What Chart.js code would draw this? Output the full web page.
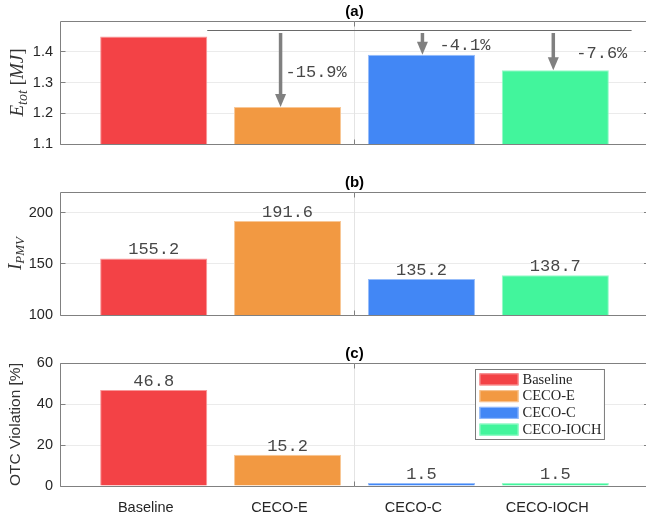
<!DOCTYPE html>
<html>
<head>
<meta charset="utf-8">
<script src="https://cdn.jsdelivr.net/npm/chart.js@4/dist/chart.umd.min.js"></script>
<style>
  html, body { margin: 0; padding: 0; background: #fff; overflow: hidden; width: 646px; height: 519px; }
  .panel { position: absolute; left: 0; width: 662px; }
  canvas { display: block; }
</style>
</head>
<body>
<div class="panel" style="top:0"><canvas id="pa" width="662" height="170"></canvas></div>
<div class="panel" style="top:170px"><canvas id="pb" width="662" height="170"></canvas></div>
<div class="panel" style="top:340px"><canvas id="pc" width="662" height="179"></canvas></div>
<script>
// Controllers compared in the three panels
const categories = ['Baseline', 'CECO-E', 'CECO-C', 'CECO-IOCH'];

// (a) total energy [MJ], (b) PMV index, (c) OTC violation [%]
const energyMJ     = [1.45, 1.22, 1.39, 1.34];
const pmvIndex     = [155.2, 191.6, 135.2, 138.7];
const otcViolation = [46.8, 15.2, 1.5, 1.5];

// y-axis tick values
const energyTicks = [1.1, 1.2, 1.3, 1.4];
const pmvTicks    = [100, 150, 200];
const otcTicks    = [0, 20, 40, 60];

const barColors = ['#F34246', '#F29942', '#4287F5', '#42F59C'];

const AXIS = '#808080';
const TEXT = '#262626';
const SANS = "'Liberation Sans', Arial, sans-serif";
const SERIF = "'Liberation Serif', 'Times New Roman', serif";
const MONO = "'Liberation Mono', 'Courier New', monospace";

function tint(hex, f) {
  const n = parseInt(hex.slice(1), 16);
  const c = [(n >> 16) & 255, (n >> 8) & 255, n & 255].map(v => Math.round(v + (255 - v) * f));
  return `rgb(${c[0]},${c[1]},${c[2]})`;
}
const crisp = v => Math.floor(v) + 0.5;

// Axes box, inward tick marks and the divider between the two controller groups
const frame = {
  id: 'frame',
  beforeDatasetsDraw(chart, args, o) {
    const { ctx, chartArea: a, scales: { x } } = chart;
    const xd = crisp(x.getPixelForValue(o.divider));
    ctx.save();
    ctx.strokeStyle = '#e4e4e4';
    ctx.lineWidth = 1;
    ctx.beginPath(); ctx.moveTo(xd, a.top); ctx.lineTo(xd, a.bottom); ctx.stroke();
    ctx.restore();
  },
  afterDatasetsDraw(chart, args, o) {
    const { ctx, chartArea: a, scales: { x, y } } = chart;
    const L = crisp(a.left), T = crisp(a.top), B = crisp(a.bottom), R = a.right;
    ctx.save();
    ctx.strokeStyle = AXIS;
    ctx.lineWidth = 1;
    ctx.beginPath();
    ctx.moveTo(L, T); ctx.lineTo(R, T);
    ctx.moveTo(L, T); ctx.lineTo(L, B);
    ctx.moveTo(L, B); ctx.lineTo(R, B);
    y.ticks.forEach(t => {
      const py = crisp(y.getPixelForValue(t.value));
      ctx.moveTo(L, py); ctx.lineTo(L + 5, py);
      ctx.moveTo(R - 5, py); ctx.lineTo(R, py);
    });
    const xd = crisp(x.getPixelForValue(o.divider));
    ctx.moveTo(xd, B); ctx.lineTo(xd, B - 5);
    ctx.moveTo(xd, T); ctx.lineTo(xd, T + 5);
    ctx.stroke();
    ctx.restore();
  }
};

// Panel tag and rotated y-axis title (rich text with subscripts)
const panelText = {
  id: 'panelText',
  afterDraw(chart, args, o) {
    const { ctx, chartArea: a } = chart;
    ctx.save();
    ctx.fillStyle = '#000';
    ctx.font = `bold 15px ${SANS}`;
    ctx.textAlign = 'center';
    ctx.textBaseline = 'middle';
    ctx.fillText(o.tag, (a.left + a.right) / 2, a.top - 9.5);

    ctx.fillStyle = '#333';
    ctx.textAlign = 'left';
    ctx.textBaseline = 'alphabetic';
    let total = 0;
    const widths = o.yTitle.map(p => { ctx.font = p.font; const w = ctx.measureText(p.text).width; total += w; return w; });
    ctx.translate(o.yTitleX, (a.top + a.bottom) / 2);
    ctx.rotate(-Math.PI / 2);
    let cx = -total / 2;
    o.yTitle.forEach((p, i) => {
      ctx.font = p.font;
      ctx.fillText(p.text, cx, p.dy || 0);
      cx += widths[i];
    });
    ctx.restore();
  }
};

// Value printed above every bar
const valueLabels = {
  id: 'valueLabels',
  afterDatasetsDraw(chart) {
    const { ctx } = chart;
    ctx.save();
    ctx.font = `17px ${MONO}`;
    ctx.fillStyle = '#474747';
    ctx.textAlign = 'center';
    ctx.textBaseline = 'alphabetic';
    chart.data.datasets.forEach((ds, i) => {
      const el = chart.getDatasetMeta(i).data[0];
      ctx.fillText(ds.data[0].y.toFixed(1), el.x, el.y - 4);
    });
    ctx.restore();
  }
};

// Reference line at the baseline level with arrows down to each controller's bar
const changeArrows = {
  id: 'changeArrows',
  afterDatasetsDraw(chart, args, o) {
    const { ctx, scales: { x, y } } = chart;
    const base = energyMJ[0];
    const baseEl = chart.getDatasetMeta(0).data[0];
    const lineY = crisp(y.getPixelForValue(base) - 5.5);
    ctx.save();
    ctx.strokeStyle = '#6a6a6a';
    ctx.lineWidth = 1;
    ctx.beginPath();
    ctx.moveTo(baseEl.x + baseEl.width / 2, lineY);
    ctx.lineTo(x.getPixelForValue(o.lineEnd), lineY);
    ctx.stroke();

    ctx.font = `17px ${MONO}`;
    ctx.textAlign = 'left';
    ctx.textBaseline = 'middle';
    for (let i = 1; i < energyMJ.length; i++) {
      const el = chart.getDatasetMeta(i).data[0];
      const ax = el.x + o.arrowDx[i - 1], y0 = lineY + 2.5, tip = el.y;
      ctx.fillStyle = '#808080';
      ctx.fillRect(ax - 1.75, y0, 3.5, tip - 12 - y0);
      ctx.beginPath();
      ctx.moveTo(ax - 5.5, tip - 13);
      ctx.lineTo(ax + 5.5, tip - 13);
      ctx.lineTo(ax, tip);
      ctx.closePath();
      ctx.fill();
      const pct = (energyMJ[i] - base) / base * 100;
      ctx.fillStyle = '#474747';
      ctx.fillText(pct.toFixed(1) + '%', el.x + o.labelDx[i - 1], (y0 + tip) / 2 + 2);
    }
    ctx.restore();
  }
};

// Boxed legend in the upper right of panel (c)
const boxLegend = {
  id: 'boxLegend',
  afterDraw(chart) {
    const { ctx, chartArea: a } = chart;
    const items = chart.data.datasets;
    ctx.save();
    ctx.font = `14.5px ${SERIF}`;
    const textW = Math.max(...items.map(d => ctx.measureText(d.label).width));
    const rowH = 16.75, swW = 39, swH = 12;
    const w = 4 + swW + 4 + textW + 3;
    const h = 3 + rowH * items.length;
    const bx = crisp(a.right - 45 - w), by = crisp(a.top + 6);
    ctx.fillStyle = '#fff';
    ctx.fillRect(bx, by, w, h);
    ctx.strokeStyle = '#7a7a7a';
    ctx.lineWidth = 1;
    ctx.strokeRect(bx, by, w, h);
    ctx.textAlign = 'left';
    ctx.textBaseline = 'middle';
    items.forEach((d, i) => {
      const cy = by + 1.5 + rowH * (i + 0.5);
      ctx.fillStyle = d.backgroundColor;
      ctx.fillRect(bx + 4, cy - swH / 2, swW, swH);
      ctx.strokeStyle = d.borderColor;
      ctx.strokeRect(bx + 4.5, cy - swH / 2 + 0.5, swW - 1, swH - 1);
      ctx.fillStyle = TEXT;
      ctx.fillText(d.label, bx + 4 + swW + 4, cy + 0.5);
    });
    ctx.restore();
  }
};

function makePanel(p) {
  const plugins = [frame, panelText];
  if (p.valueLabels) plugins.push(valueLabels);
  if (p.arrows) plugins.push(changeArrows);
  if (p.legend) plugins.push(boxLegend);

  return new Chart(document.getElementById(p.id), {
    type: 'bar',
    data: {
      datasets: categories.map((c, i) => ({
        label: c,
        data: [{ x: i + 1, y: p.values[i] }],
        backgroundColor: barColors[i],
        borderColor: tint(barColors[i], 0.45),
        borderWidth: 1,
        borderSkipped: 'start',
        grouped: false,
        barPercentage: 0.8,
        categoryPercentage: 1
      }))
    },
    options: {
      responsive: false,
      animation: false,
      events: [],
      layout: { padding: { top: p.top, right: 13, left: 0, bottom: 0 } },
      plugins: {
        legend: { display: false },
        tooltip: { enabled: false },
        frame: { divider: 2.5 },
        panelText: { tag: p.tag, yTitle: p.yTitle, yTitleX: p.yTitleX },
        changeArrows: { lineEnd: 4.57, arrowDx: [-7, 1, -2], labelDx: [-2, 18, 21] }
      },
      scales: {
        x: {
          type: 'linear',
          min: 0.3,
          max: 4.7,
          offset: false,
          afterBuildTicks: s => { s.ticks = categories.map((c, i) => ({ value: i + 1 })); },
          afterFit: s => { s.height = p.bottomH; },
          ticks: {
            display: p.showX,
            autoSkip: false,
            maxRotation: 0,
            padding: 13.5,
            labelOffset: -8,
            color: TEXT,
            font: { family: SANS, size: 14.5 },
            callback: v => categories[v - 1]
          },
          grid: { display: false, drawTicks: false },
          border: { display: false }
        },
        y: {
          min: p.min,
          max: p.max,
          afterBuildTicks: s => { s.ticks = p.ticks.map(v => ({ value: v })); },
          afterFit: s => { s.width = 60; },
          ticks: {
            padding: 7,
            color: TEXT,
            font: { family: SANS, size: 14.5 },
            callback: v => String(v)
          },
          grid: { color: '#ebebeb', lineWidth: 1, drawTicks: false },
          border: { display: false }
        }
      }
    },
    plugins
  });
}

makePanel({
  id: 'pa', values: energyMJ, min: 1.1, max: 1.5, ticks: energyTicks,
  top: 21, bottomH: 26, tag: '(a)', showX: false, arrows: true, yTitleX: 23,
  yTitle: [
    { text: 'E', font: `italic 19px ${SERIF}` },
    { text: 'tot', font: `italic 14px ${SERIF}`, dy: 4 },
    { text: ' [', font: `19px ${SERIF}` },
    { text: 'MJ', font: `italic 19px ${SERIF}` },
    { text: ']', font: `19px ${SERIF}` }
  ]
});

makePanel({
  id: 'pb', values: pmvIndex, min: 100, max: 220, ticks: pmvTicks,
  top: 22, bottomH: 25, tag: '(b)', showX: false, valueLabels: true, yTitleX: 20.5,
  yTitle: [
    { text: 'I', font: `italic 19px ${SERIF}` },
    { text: 'PMV', font: `italic 13px ${SERIF}`, dy: 3 }
  ]
});

makePanel({
  id: 'pc', values: otcViolation, min: 0, max: 60, ticks: otcTicks,
  top: 23, bottomH: 33, tag: '(c)', showX: true, valueLabels: true, legend: true, yTitleX: 19.5,
  yTitle: [
    { text: 'OTC Violation [%]', font: `15.5px ${SANS}` }
  ]
});
</script>
</body>
</html>
